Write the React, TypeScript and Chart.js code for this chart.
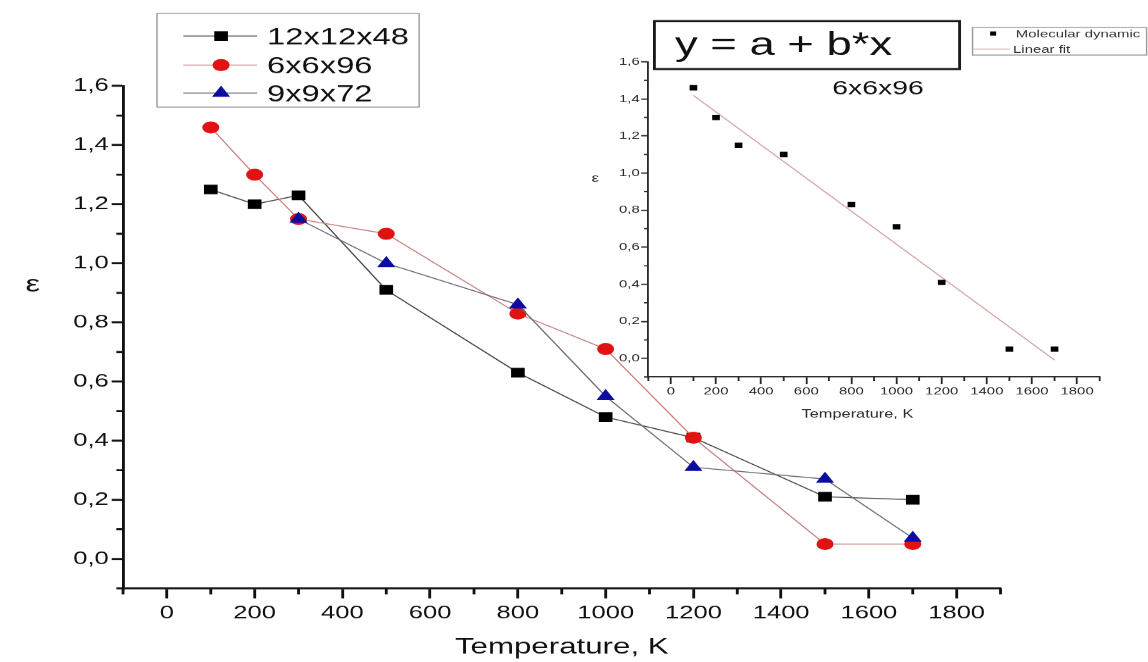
import React, { useEffect, useRef } from 'react';
import { Chart, registerables } from 'chart.js';

Chart.register(...registerables);

// ---------------- data ----------------
const temperatures = [100, 200, 300, 500, 800, 1000, 1200, 1500, 1700];
const strain12x12x48 = [1.25, 1.2, 1.23, 0.91, 0.63, 0.48, 0.41, 0.21, 0.2];
const strain6x6x96 = [1.46, 1.3, 1.15, 1.1, 0.83, 0.71, 0.41, 0.05, 0.05];
const strain9x9x72 = [null, null, 1.15, 1.0, 0.86, 0.55, 0.31, 0.27, 0.07];
const seriesLabels = ['12x12x48', '6x6x96', '9x9x72'];
const insetSeriesLabels = ['Molecular dynamic', 'Linear fit'];
const insetTitle = '6x6x96';
const insetEquation = 'y = a + b*x';
const xAxisTitle = 'Temperature, K';
const yAxisTitle = 'ε';

const xMajorTicks = [0, 200, 400, 600, 800, 1000, 1200, 1400, 1600, 1800];
const xMinorTicks = [-100, 100, 300, 500, 700, 900, 1100, 1300, 1500, 1700, 1900];
const yMajorTicks = [0, 0.2, 0.4, 0.6, 0.8, 1.0, 1.2, 1.4, 1.6];
const yMinorTicks = [-0.1, 0.1, 0.3, 0.5, 0.7, 0.9, 1.1, 1.3, 1.5];

// ---------------- layout ----------------
const W = 808; // internal width; the reference is stretched horizontally
const H = 662;
const S = 1148 / W;
const FONT = "'Liberation Sans', Arial, Helvetica, sans-serif";

const isIn = (v: number, arr: number[]) => arr.some((m) => Math.abs(m - v) < 1e-6);
const fmtY = (v: number) => v.toFixed(1).replace('.', ',');

function points(xs: number[], ys: (number | null)[]) {
  const out: { x: number; y: number }[] = [];
  xs.forEach((x, i) => {
    const y = ys[i];
    if (y !== null && y !== undefined) out.push({ x, y });
  });
  return out;
}

function linearFit(xs: number[], ys: number[]) {
  const n = xs.length;
  const mx = xs.reduce((a, b) => a + b, 0) / n;
  const my = ys.reduce((a, b) => a + b, 0) / n;
  let sxy = 0;
  let sxx = 0;
  for (let i = 0; i < n; i++) {
    sxy += (xs[i] - mx) * (ys[i] - my);
    sxx += (xs[i] - mx) * (xs[i] - mx);
  }
  const b = sxy / sxx;
  return { a: my - b * mx, b };
}

const allX = [...xMajorTicks, ...xMinorTicks].sort((a, b) => a - b);
const allY = [...yMajorTicks, ...yMinorTicks].sort((a, b) => a - b);

const minorTicksPlugin = {
  id: 'minorTicks',
  afterDraw(chart: any, _args: any, opts: any) {
    const ctx = chart.ctx;
    const xs = chart.scales.x;
    const ys = chart.scales.y;
    ctx.save();
    ctx.strokeStyle = opts.color;
    ctx.lineWidth = opts.width;
    ctx.beginPath();
    xMinorTicks.forEach((v) => {
      const px = xs.getPixelForValue(v);
      ctx.moveTo(px, xs.top);
      ctx.lineTo(px, xs.top + opts.xLen);
    });
    yMinorTicks.forEach((v) => {
      const py = ys.getPixelForValue(v);
      ctx.moveTo(ys.right - opts.yLen, py);
      ctx.lineTo(ys.right, py);
    });
    ctx.stroke();
    ctx.restore();
  },
};

function drawMarker(ctx: CanvasRenderingContext2D, style: string, x: number, y: number, r: number, color: string) {
  ctx.save();
  ctx.fillStyle = color;
  ctx.beginPath();
  if (style === 'rect') {
    const s = r * Math.SQRT1_2;
    ctx.rect(x - s, y - s, 2 * s, 2 * s);
  } else if (style === 'circle') {
    ctx.arc(x, y, r, 0, Math.PI * 2);
  } else if (style === 'triangle') {
    ctx.moveTo(x, y - r);
    ctx.lineTo(x + r * Math.sin((2 * Math.PI) / 3), y - r * Math.cos((2 * Math.PI) / 3));
    ctx.lineTo(x + r * Math.sin((4 * Math.PI) / 3), y - r * Math.cos((4 * Math.PI) / 3));
    ctx.closePath();
  }
  ctx.fill();
  ctx.restore();
}

const mainDecorPlugin = {
  id: 'mainDecor',
  afterDraw(chart: any) {
    const ctx: CanvasRenderingContext2D = chart.ctx;
    const ca = chart.chartArea;
    // y axis title (upright, as in the reference)
    ctx.save();
    ctx.fillStyle = '#111';
    ctx.font = `23px ${FONT}`;
    ctx.textAlign = 'center';
    ctx.textBaseline = 'middle';
    ctx.fillText(yAxisTitle, 23, ca.top + (ca.bottom - ca.top) * 0.396);
    ctx.restore();

    // legend
    ctx.save();
    ctx.fillStyle = '#fff';
    ctx.fillRect(110.5, 13.5, 184.5, 93.5);
    ctx.strokeStyle = '#9a9a9a';
    ctx.lineWidth = 1;
    ctx.strokeRect(110.5, 13.5, 184.5, 93.5);
    const rows = [36, 65, 93];
    chart.data.datasets.forEach((ds: any, i: number) => {
      const y = rows[i];
      ctx.strokeStyle = ds.borderColor;
      ctx.lineWidth = 1;
      ctx.beginPath();
      ctx.moveTo(129, y);
      ctx.lineTo(181, y);
      ctx.stroke();
      drawMarker(ctx, ds.pointStyle, 155.6, y, ds.pointRadius, ds.pointBackgroundColor);
      ctx.fillStyle = '#111';
      ctx.font = `23px ${FONT}`;
      ctx.textAlign = 'left';
      ctx.textBaseline = 'alphabetic';
      ctx.fillText(ds.label, 188, y + 0.358 * 23);
    });
    ctx.restore();
  },
};

const insetDecorPlugin = {
  id: 'insetDecor',
  afterDraw(chart: any) {
    const ctx: CanvasRenderingContext2D = chart.ctx;
    const ca = chart.chartArea;
    ctx.save();
    // y axis title
    ctx.fillStyle = '#333';
    ctx.font = `12px ${FONT}`;
    ctx.textAlign = 'center';
    ctx.textBaseline = 'middle';
    ctx.fillText(yAxisTitle, 419, ca.top + (ca.bottom - ca.top) * 0.37);

    // x axis title (sits left of the axis centre in the reference)
    ctx.fillStyle = '#2a2a2a';
    ctx.font = `11.5px ${FONT}`;
    ctx.fillText(xAxisTitle, 603.5, 414);

    // equation box
    ctx.fillStyle = '#fff';
    ctx.fillRect(460.6, 21, 214.8, 48);
    ctx.strokeStyle = '#1a1a1a';
    ctx.lineWidth = 2;
    ctx.strokeRect(460.6, 21, 214.8, 48);
    ctx.fillStyle = '#111';
    ctx.font = `32px ${FONT}`;
    ctx.textAlign = 'left';
    ctx.textBaseline = 'alphabetic';
    ctx.fillText(insetEquation, 475, 55);

    // inset title
    ctx.font = `20px ${FONT}`;
    ctx.textAlign = 'center';
    ctx.fillText(insetTitle, 618, 94);

    // inset legend
    ctx.fillStyle = '#fff';
    ctx.fillRect(684.5, 27.5, 122.5, 27.5);
    ctx.strokeStyle = '#9a9a9a';
    ctx.lineWidth = 1;
    ctx.strokeRect(684.5, 27.5, 122.5, 27.5);
    const ds0 = chart.data.datasets[0];
    const ds1 = chart.data.datasets[1];
    drawMarker(ctx, 'rect', 699, 33.5, 3, ds0.pointBackgroundColor);
    ctx.strokeStyle = ds1.borderColor;
    ctx.beginPath();
    ctx.moveTo(685, 49);
    ctx.lineTo(711, 49);
    ctx.stroke();
    ctx.fillStyle = '#333';
    ctx.font = `10.5px ${FONT}`;
    ctx.textAlign = 'left';
    ctx.fillText(ds0.label, 715, 37.3);
    ctx.fillText(ds1.label, 713, 52.8);
    ctx.restore();
  },
};

function axes(o: {
  xHeight: number;
  yWidth: number;
  tickFont: number;
  titleFont: number;
  xTickLen: number;
  yTickLen: number;
  borderWidth: number;
  color: string;
  xPad: number;
  yPad: number;
  titlePad: number;
  showXTitle: boolean;
}) {
  return {
    x: {
      type: 'linear',
      min: -100,
      max: 1900,
      afterBuildTicks: (s: any) => {
        s.ticks = allX.map((v) => ({ value: v }));
      },
      afterFit: (s: any) => {
        s.height = o.xHeight;
      },
      ticks: {
        autoSkip: false,
        maxRotation: 0,
        minRotation: 0,
        padding: o.xPad,
        color: o.color,
        font: { family: FONT, size: o.tickFont },
        callback: (v: number) => (isIn(v, xMajorTicks) ? String(v) : ''),
      },
      grid: {
        display: true,
        drawOnChartArea: false,
        drawTicks: true,
        tickLength: o.xTickLen,
        tickWidth: o.borderWidth,
        tickColor: (c: any) => (c.tick && isIn(c.tick.value, xMajorTicks) ? o.color : 'rgba(0,0,0,0)'),
      },
      border: { display: true, color: o.color, width: o.borderWidth },
      title: {
        display: o.showXTitle,
        text: xAxisTitle,
        color: o.color,
        font: { family: FONT, size: o.titleFont },
        padding: { top: 0, bottom: o.titlePad },
      },
    },
    y: {
      type: 'linear',
      min: -0.1,
      max: 1.6,
      afterBuildTicks: (s: any) => {
        s.ticks = allY.map((v) => ({ value: v }));
      },
      afterFit: (s: any) => {
        s.width = o.yWidth;
      },
      ticks: {
        autoSkip: false,
        padding: o.yPad,
        color: o.color,
        font: { family: FONT, size: o.tickFont },
        callback: (v: number) => (isIn(v, yMajorTicks) ? fmtY(v) : ''),
      },
      grid: {
        display: true,
        drawOnChartArea: false,
        drawTicks: true,
        tickLength: o.yTickLen,
        tickWidth: o.borderWidth,
        tickColor: (c: any) => (c.tick && isIn(c.tick.value, yMajorTicks) ? o.color : 'rgba(0,0,0,0)'),
      },
      border: { display: true, color: o.color, width: o.borderWidth },
      title: { display: false },
    },
  };
}

function mainConfig(): any {
  return {
    type: 'line',
    data: {
      datasets: [
        {
          label: seriesLabels[0],
          data: points(temperatures, strain12x12x48),
          borderColor: '#474747',
          borderWidth: 1,
          pointStyle: 'rect',
          pointRadius: 6.8,
          pointBackgroundColor: '#000000',
          pointBorderColor: '#000000',
          pointBorderWidth: 0,
          order: 2,
        },
        {
          label: seriesLabels[1],
          data: points(temperatures, strain6x6x96),
          borderColor: '#c98080',
          borderWidth: 1,
          pointStyle: 'circle',
          pointRadius: 6,
          pointBackgroundColor: '#e01212',
          pointBorderColor: '#e01212',
          pointBorderWidth: 0,
          order: 1,
        },
        {
          label: seriesLabels[2],
          data: points(temperatures, strain9x9x72),
          borderColor: '#6a6a7c',
          borderWidth: 1,
          pointStyle: 'triangle',
          pointRadius: 7.4,
          pointBackgroundColor: '#0c0ca0',
          pointBorderColor: '#0c0ca0',
          pointBorderWidth: 0,
          order: 0,
        },
      ],
    },
    options: {
      responsive: false,
      animation: false,
      devicePixelRatio: S,
      events: [],
      layout: { padding: { left: 0, top: 86, right: W - 704.2, bottom: 0 } },
      scales: axes({
        xHeight: H - 588,
        yWidth: 86.6,
        tickFont: 18,
        titleFont: 22,
        xTickLen: 10,
        yTickLen: 8,
        borderWidth: 2,
        color: '#111',
        xPad: 4,
        yPad: 2,
        titlePad: 2,
        showXTitle: true,
      }),
      plugins: {
        legend: { display: false },
        tooltip: { enabled: false },
        minorTicks: { color: '#111', width: 2, xLen: 6, yLen: 4.7 },
      },
    },
    plugins: [minorTicksPlugin, mainDecorPlugin],
  };
}

function insetConfig(): any {
  const fit = linearFit(temperatures, strain6x6x96);
  const x0 = temperatures[0];
  const x1 = temperatures[temperatures.length - 1];
  return {
    type: 'line',
    data: {
      datasets: [
        {
          label: insetSeriesLabels[0],
          data: points(temperatures, strain6x6x96),
          showLine: false,
          pointStyle: 'rect',
          pointRadius: 3.8,
          pointBackgroundColor: '#000000',
          pointBorderColor: '#000000',
          pointBorderWidth: 0,
          order: 0,
        },
        {
          label: insetSeriesLabels[1],
          data: [
            { x: x0, y: fit.a + fit.b * x0 },
            { x: x1, y: fit.a + fit.b * x1 },
          ],
          borderColor: '#d4a4a4',
          borderWidth: 1,
          pointRadius: 0,
          order: 1,
        },
      ],
    },
    options: {
      responsive: false,
      animation: false,
      devicePixelRatio: S,
      events: [],
      layout: { padding: { left: 456.3 - 50, top: 61.8, right: W - 774, bottom: H - 376.7 - 46 } },
      scales: axes({
        xHeight: 46,
        yWidth: 50,
        tickFont: 10.5,
        titleFont: 11.5,
        xTickLen: 7,
        yTickLen: 5,
        borderWidth: 1.3,
        color: '#2a2a2a',
        xPad: 1,
        yPad: 1,
        titlePad: 2,
        showXTitle: false,
      }),
      plugins: {
        legend: { display: false },
        tooltip: { enabled: false },
        minorTicks: { color: '#2a2a2a', width: 1.3, xLen: 4, yLen: 3 },
      },
    },
    plugins: [minorTicksPlugin, insetDecorPlugin],
  };
}

export default function App() {
  const mainRef = useRef<HTMLCanvasElement>(null);
  const insetRef = useRef<HTMLCanvasElement>(null);

  useEffect(() => {
    const main = new Chart(mainRef.current as HTMLCanvasElement, mainConfig());
    const inset = new Chart(insetRef.current as HTMLCanvasElement, insetConfig());
    return () => {
      main.destroy();
      inset.destroy();
    };
  }, []);

  const canvasStyle: React.CSSProperties = {
    position: 'absolute',
    left: 0,
    top: 0,
    width: '1148px',
    height: '662px',
  };

  return (
    <div
      style={{
        position: 'fixed',
        left: 0,
        top: 0,
        width: 1148,
        height: 662,
        background: '#ffffff',
        overflow: 'hidden',
      }}
    >
      <canvas ref={mainRef} width={W} height={H} style={canvasStyle} />
      <canvas ref={insetRef} width={W} height={H} style={canvasStyle} />
    </div>
  );
}
